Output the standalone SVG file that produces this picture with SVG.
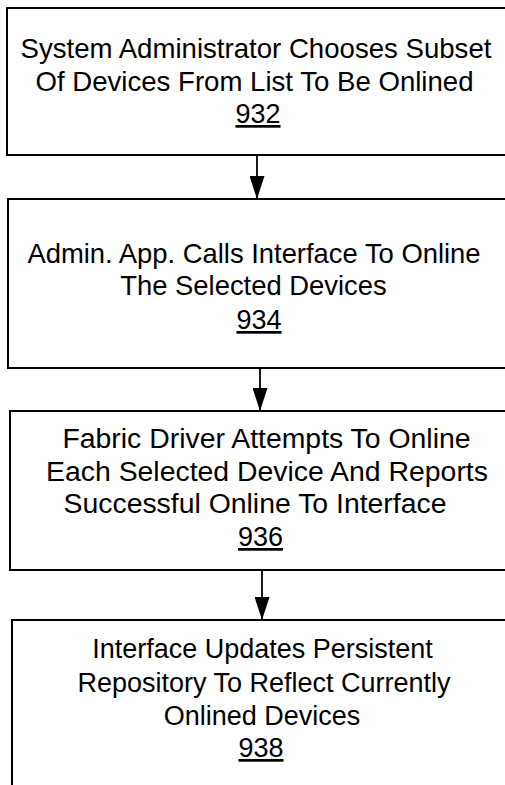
<svg xmlns="http://www.w3.org/2000/svg" width="505" height="785" viewBox="0 0 505 785">
<defs>
<style>
.box{fill:#fff;stroke:#000;stroke-width:2}
.t{font-family:"Liberation Sans",Arial,sans-serif;font-size:27px;fill:#000;text-anchor:middle}
.t1{font-size:27.6px}
.t2{font-size:27.4px}
.t3{font-size:28.4px}
.u{text-decoration:underline}
.c{stroke:#000;stroke-width:1.8;fill:none}
</style>
<marker id="ah" viewBox="0 0 23 15" refX="23" refY="7.5" markerWidth="23" markerHeight="15" markerUnits="userSpaceOnUse" orient="auto">
<path d="M0,0 L23,7.5 L0,15 Z" fill="#000"/>
</marker>
</defs>
<g id="n932">
<rect class="box" x="7" y="8" width="510" height="147"/>
<text class="t t1" x="256" y="58">System Administrator Chooses Subset</text>
<text class="t t1" x="254.5" y="91">Of Devices From List To Be Onlined</text>
<text class="t u" x="258" y="123">932</text>
</g>
<g id="n934">
<rect class="box" x="8" y="199" width="510" height="169"/>
<text class="t t2" x="254" y="263">Admin. App. Calls Interface To Online</text>
<text class="t t2" x="253.5" y="295">The Selected Devices</text>
<text class="t u" x="259" y="329">934</text>
</g>
<g id="n936">
<rect class="box" x="10" y="411" width="510" height="159"/>
<text class="t t3" x="266.5" y="448">Fabric Driver Attempts To Online</text>
<text class="t t3" x="267" y="481">Each Selected Device And Reports</text>
<text class="t t3" x="255" y="513">Successful Online To Interface</text>
<text class="t u" x="260.5" y="546">936</text>
</g>
<g id="n938">
<rect class="box" x="12" y="620" width="510" height="200"/>
<text class="t" x="262.5" y="658">Interface Updates Persistent</text>
<text class="t" x="264" y="692">Repository To Reflect Currently</text>
<text class="t" x="262" y="725">Onlined Devices</text>
<text class="t u" x="261" y="757">938</text>
</g>
<g id="connectors">
<path class="c" d="M257,155 L257,199" marker-end="url(#ah)"/>
<path class="c" d="M260,368 L260,411" marker-end="url(#ah)"/>
<path class="c" d="M262,570 L262,620" marker-end="url(#ah)"/>
</g>
</svg>
